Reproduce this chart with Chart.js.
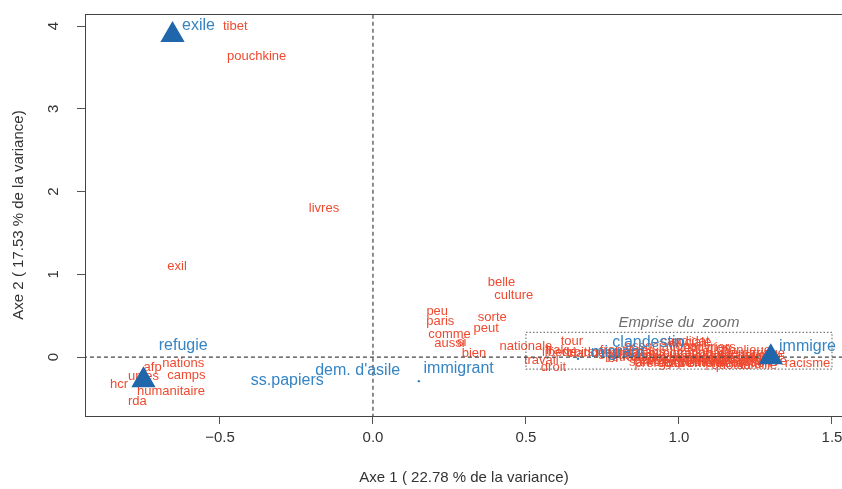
<!DOCTYPE html>
<html><head><meta charset="utf-8">
<script src="https://cdn.jsdelivr.net/npm/chart.js@4.4.1/dist/chart.umd.min.js"></script>
<style>html,body{margin:0;padding:0;overflow:hidden;background:#fff}#wrap{width:860px;height:489px}</style>
</head><body><div id="wrap"><canvas id="c" width="860" height="489"></canvas></div>
<script>
// ---- data ----
const xTicks = [-0.5, 0, 0.5, 1.0, 1.5];
const yTicks = [0, 1, 2, 3, 4];
const xTitle = "Axe 1 ( 22.78 % de la variance)";
const yTitle = "Axe 2 ( 17.53 % de la variance)";

// words (red)
const wordLabels = ["tibet","pouchkine","livres","exil","nations","afp","unies","camps","hcr","humanitaire","rda",
  "belle","culture","peu","paris","sorte","peut","comme","aussi","si","bien","nationale","tour","travail","droit",
  "candidat","racisme",
  "clandestins","liberté","irak","associations","intégration","étrangers","politique","nationalité","expulsion",
  "régularisation","sans","travailleurs","police","banlieue","préfecture","jeunes","loi","grève","mariage","emploi",
  "immigration","ouvriers","frontières","pays","papiers","sarkozy","quotas","famille","logement","syndicats","droits","sociale",
  "racistes","ministre","centres","rétention","communauté","gouvernement","identité","français","vote"];
const wordX = [-0.45,-0.38,-0.16,-0.64,-0.62,-0.72,-0.75,-0.61,-0.83,-0.66,-0.77,
  0.42,0.46,0.21,0.22,0.39,0.37,0.25,0.25,0.29,0.33,0.50,0.65,0.55,0.59,
  1.02,1.42,
  0.74,0.61,0.60,0.94,1.07,0.87,0.98,1.08,1.04,
  1.18,1.23,1.15,1.26,1.22,0.95,0.83,0.78,1.30,1.27,1.09,
  1.00,1.11,0.83,0.91,1.20,0.91,1.17,1.26,0.79,1.07,0.67,1.04,
  1.13,1.04,0.92,1.22,1.07,1.07,1.26,0.89,1.30];
const wordY = [4.00,3.63,1.80,1.10,-0.08,-0.13,-0.23,-0.22,-0.33,-0.41,-0.53,
  0.90,0.75,0.55,0.43,0.48,0.35,0.28,0.16,0.18,0.05,0.13,0.19,-0.04,-0.12,
  0.19,-0.07,
  0.04,0.06,0.08,0.13,0.10,0.00,-0.02,0.01,-0.06,
  0.02,-0.05,-0.06,-0.02,0.08,-0.08,0.02,-0.01,-0.05,0.04,-0.08,
  0.04,0.12,0.08,0.06,-0.01,-0.06,-0.10,-0.10,0.06,-0.04,0.06,0.18,
  -0.01,-0.01,-0.04,-0.08,0.05,-0.08,0.00,0.01,0.01];

// terms (blue)
const termLabels = ["exile","refugie","ss.papiers","dem. d'asile","immigrant","migrant","clandestin","immigre"];
const termX = [-0.57,-0.62,-0.28,-0.05,0.28,0.80,0.90,1.42];
const termY = [4.00,0.14,-0.28,-0.16,-0.14,0.06,0.17,0.13];

// main category points (triangles)
const triX = [-0.655,-0.75,1.30];
const triY = [3.89,-0.28,0.00];

// small blue points
const dotX = [0.15,0.67];
const dotY = [-0.29,-0.02];

// zoom extent
const zoomBoxX = [0.5,1.5,1.5,0.5,0.5];
const zoomBoxY = [0.30,0.30,-0.145,-0.145,0.30];
const zoomText = "Emprise du  zoom";
const zoomTextX = 1.0, zoomTextY = 0.42;

// ---- styles ----
const RED = '#ee4a30', BLUE = '#3584c4', TRI = '#1f66aa', INK = '#333333';
const FONT = '"Liberation Sans", Arial, Helvetica, sans-serif';

const pts = (xs, ys) => xs.map((x, i) => ({x, y: ys[i]}));

function drawTexts(chart, labels, xs, ys, color, font) {
  const {ctx, chartArea: a, scales: {x, y}} = chart;
  ctx.save();
  ctx.beginPath(); ctx.rect(a.left, a.top, a.right - a.left, a.bottom - a.top); ctx.clip();
  ctx.fillStyle = color; ctx.font = font; ctx.textAlign = 'center'; ctx.textBaseline = 'middle';
  labels.forEach((t, i) => ctx.fillText(t, x.getPixelForValue(xs[i]), y.getPixelForValue(ys[i])));
  ctx.restore();
}

const textPlugin = {
  id: 'texts',
  beforeDatasetsDraw(chart) {
    drawTexts(chart, wordLabels, wordX, wordY, RED, '13px ' + FONT);
  },
  afterDatasetsDraw(chart) {
    drawTexts(chart, termLabels, termX, termY, BLUE, '16px ' + FONT);
    drawTexts(chart, [zoomText], [zoomTextX], [zoomTextY], '#6e6e6e', 'italic 15px ' + FONT);
  },
  afterDraw(chart) {
    const {ctx, chartArea: a, scales: {y}} = chart;
    ctx.save();
    ctx.strokeStyle = '#444'; ctx.lineWidth = 1;
    ctx.strokeRect(a.left + 0.5, a.top + 0.5, a.right - a.left, a.bottom - a.top);
    ctx.fillStyle = INK; ctx.font = '15px ' + FONT; ctx.textAlign = 'center'; ctx.textBaseline = 'middle';
    yTicks.forEach(v => {
      ctx.save();
      ctx.translate(54, y.getPixelForValue(v));
      ctx.rotate(-Math.PI / 2);
      ctx.fillText(String(v), 0, 0);
      ctx.restore();
    });
    ctx.restore();
  }
};

new Chart(document.getElementById('c'), {
  type: 'scatter',
  data: {
    datasets: [
      {data: pts(triX, triY), pointStyle: 'triangle', pointRadius: 14, backgroundColor: TRI, borderWidth: 0},
      {data: pts(dotX, dotY), pointRadius: 1.2, backgroundColor: BLUE, borderWidth: 0},
      {data: [{x: -2, y: 0}, {x: 3, y: 0}], showLine: true, pointRadius: 0, borderColor: '#444', borderWidth: 1.2, borderDash: [4, 3]},
      {data: [{x: 0, y: -2}, {x: 0, y: 6}], showLine: true, pointRadius: 0, borderColor: '#444', borderWidth: 1.2, borderDash: [4, 3]},
      {data: pts(zoomBoxX, zoomBoxY), showLine: true, pointRadius: 0, borderColor: '#777', borderWidth: 1.2, borderDash: [1.5, 2]}
    ]
  },
  options: {
    responsive: false, devicePixelRatio: 1, animation: false,
    layout: {padding: {left: 0, top: 13, right: 17, bottom: 0}},
    plugins: {legend: {display: false}, tooltip: {enabled: false}},
    scales: {
      x: {
        type: 'linear', min: -0.941, max: 1.536,
        afterBuildTicks: s => { s.ticks = xTicks.map(v => ({value: v})); },
        afterFit: s => { s.height = 73; },
        border: {display: false},
        grid: {drawOnChartArea: false, drawTicks: true, tickLength: 8, color: '#555'},
        ticks: {autoSkip: false, maxRotation: 0, padding: 5, color: INK, font: {family: FONT, size: 15},
          callback: v => (v < 0 ? '\u2212' : '') + Math.abs(v).toFixed(1)},
        title: {display: true, text: xTitle, color: INK, font: {family: FONT, size: 15}, padding: {top: 0, bottom: 2}}
      },
      y: {
        type: 'linear', min: -0.711, max: 4.145,
        afterBuildTicks: s => { s.ticks = yTicks.map(v => ({value: v})); },
        afterFit: s => { s.width = 85; },
        border: {display: false},
        grid: {drawOnChartArea: false, drawTicks: true, tickLength: 8, color: '#555'},
        ticks: {display: false},
        title: {display: true, text: yTitle, color: INK, font: {family: FONT, size: 15}, padding: {top: 10, bottom: 0}}
      }
    }
  },
  plugins: [textPlugin]
});
</script></body></html>
